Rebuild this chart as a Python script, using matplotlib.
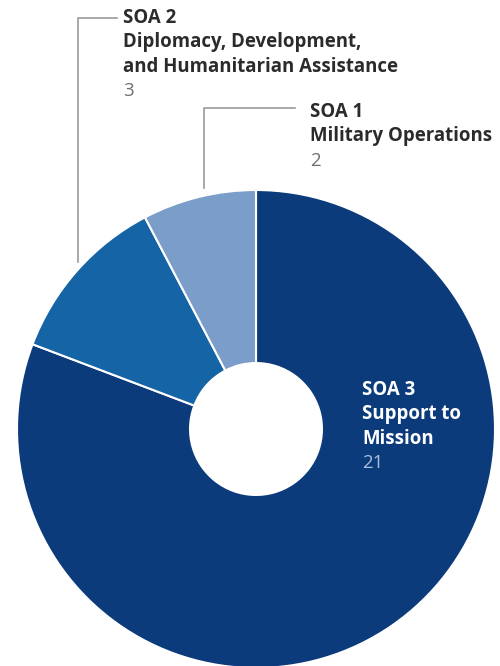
import matplotlib.pyplot as plt

# data
labels = ["SOA 3", "SOA 2", "SOA 1"]
names = ["Support to\nMission", "Diplomacy, Development,\nand Humanitarian Assistance", "Military Operations"]
values = [21, 3, 2]
colors = ["#0c3b7c", "#1464a6", "#7b9dca"]

W, H = 500, 666
fig = plt.figure(figsize=(W / 100, H / 100), dpi=100)
ax = fig.add_axes([0, 0, 1, 1])

cx, cy, r = 256, H - 429, 239
ax.pie(values, colors=colors, startangle=90, counterclock=False,
       center=(cx, cy), radius=r, frame=True,
       wedgeprops=dict(width=r * 0.724, edgecolor="white", linewidth=1.5))
ax.set_xlim(0, W)
ax.set_ylim(0, H)
ax.set_aspect("equal")
ax.axis("off")

font = "Open Sans"
dark = "#2b2b2b"
grey = "#6f6f6f"
line_c = "#9a9a9a"
fs = 13.4
lh = 24.5

def label_block(x, y_top, head, body, val, col, val_col):
    lines = [head] + body.split("\n")
    for i, t in enumerate(lines):
        ax.text(x, H - (y_top + i * lh), t, fontsize=fs, fontweight="bold",
                color=col, family=font, va="center", ha="left")
    ax.text(x, H - (y_top + len(lines) * lh), str(val), fontsize=fs,
            color=val_col, family=font, va="center", ha="left")

# SOA 2 label with leader
label_block(123, 18, labels[1], names[1], values[1], dark, grey)
ax.plot([117, 78, 78], [H - 18, H - 18, H - 262], color=line_c, lw=1.2)

# SOA 1 label with leader
label_block(310, 112, labels[2], names[2], values[2], dark, grey)
ax.plot([295, 204, 204], [H - 108, H - 108, H - 188], color=line_c, lw=1.2)

# SOA 3 inside
label_block(362, 390, labels[0], names[0], values[0], "white", "#a9bddc")

fig.savefig("out.png", dpi=100)
